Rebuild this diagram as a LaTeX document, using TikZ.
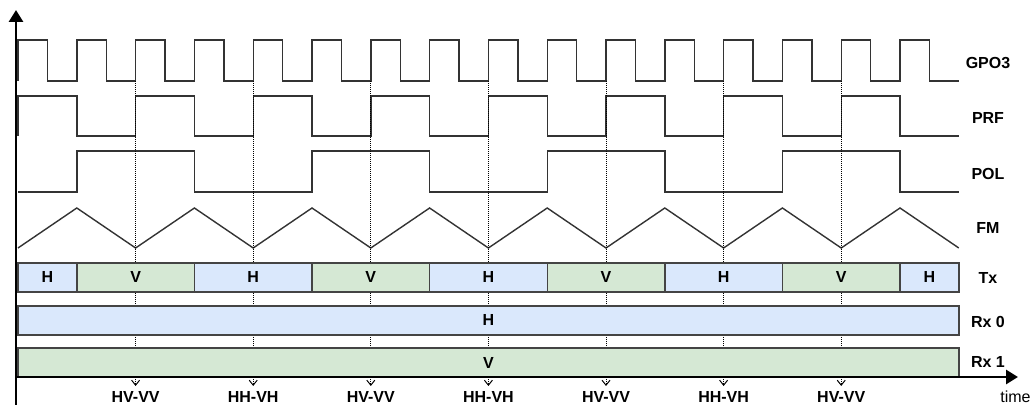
\documentclass[tikz,border=0pt]{standalone}
\usepackage{fontspec}
\setmainfont{Liberation Sans}
\usetikzlibrary{arrows.meta}
\definecolor{hcolor}{RGB}{218,232,252}
\definecolor{vcolor}{RGB}{213,232,212}
\definecolor{linecolor}{RGB}{51,51,51}
\definecolor{edgecolor}{RGB}{68,68,68}

\newcommand{\halfp}{29.4}   % half a GPO3 period
\newcommand{\tzero}{18}     % where every signal starts

\begin{document}
\begin{tikzpicture}[%
    x=1pt, y=1pt,                                    % one unit is one pixel
    font=\fontsize{16}{19}\selectfont\bfseries,      % bold labels everywhere
    >={Straight Barb[length=5pt,width=8pt]},         % small open tips for the probes
    ]
\tikzset{
  sig/.style={draw=linecolor, line width=1.4pt, line join=miter},
  axis/.style={line width=2.8pt, -{Triangle[length=12pt,width=14pt]}},
  cell/.style={draw=edgecolor, line width=1.4pt, minimum height=29pt, inner sep=0pt},
  hbox/.style={cell, fill=hcolor},
  vbox/.style={cell, fill=vcolor},
  lab/.style={inner sep=0pt},
  res/.style={inner sep=2pt, outer sep=3pt},
  probe/.style={->, line width=1pt, dash pattern=on 1pt off 1pt},
}

\useasboundingbox (0,0) rectangle (1032,411);

%signals
\draw[sig] (\tzero,330) \foreach \k in {0,...,15} {
  |- ({\tzero+(2*\k+1)*\halfp},371) |- ({\tzero+(2*\k+2)*\halfp},330) };
\draw[sig] (\tzero,275) \foreach \k in {0,...,7} {
  |- ({\tzero+(4*\k+2)*\halfp},315) |- ({\tzero+(4*\k+4)*\halfp},275) };
\draw[sig] (\tzero,219) \foreach \k in {0,...,3} {
  -| ({\tzero+(8*\k+2)*\halfp},260) -| ({\tzero+(8*\k+6)*\halfp},219) }
  -- ({\tzero+32*\halfp},219);
\draw[sig] (\tzero,163) \foreach \k in {0,...,7} {
  -- ({\tzero+(4*\k+2)*\halfp},203) -- ({\tzero+(4*\k+4)*\halfp},163) };

%results, probes go under the slots
\foreach \t [count=\i] in {HV-VV, HH-VH, HV-VV, HH-VH, HV-VV, HH-VH, HV-VV} {
  \coordinate (s\i) at ({\tzero+4*\i*\halfp},330);
  \node[res] (m\i) at ({\tzero+4*\i*\halfp},14.5) {\t};
  \draw[probe] (s\i) -- (m\i.north);
}

%slots
\foreach \a/\b/\s/\t [count=\i from 0] in {0/2/hbox/H, 2/6/vbox/V, 6/10/hbox/H,
    10/14/vbox/V, 14/18/hbox/H, 18/22/vbox/V, 22/26/hbox/H, 26/30/vbox/V, 30/32/hbox/H}
  \node[\s, minimum width={(\b-\a)*\halfp}] (b\i) at ({\tzero+(\a+\b)/2*\halfp},133.5) {\t};
\node[hbox, minimum width={32*\halfp}] (r0) at ({\tzero+16*\halfp},90.5) {H};
\node[vbox, minimum width={32*\halfp}] (r1) at ({\tzero+16*\halfp},48.5) {V};

%names
\foreach \t/\y [count=\i from 0] in {GPO3/348, PRF/292.5, POL/237, FM/182.5,
    Tx/132.5, Rx 0/89.5, Rx 1/49.5}
  \node[lab] (l\i) at (988,\y) {\t};

%axes
\coordinate (ybot) at (16,6);
\coordinate (ytop) at (16,401);
\coordinate (o) at (16,34);
\coordinate (xend) at (1018,34);
\draw[axis] (ybot) -- (ytop);
\draw[axis] (o) -- (xend);
\node[lab, font=\fontsize{16}{19}\selectfont\mdseries] (tl) at (1015.5,14.5) {time};

\end{tikzpicture}
\end{document}
